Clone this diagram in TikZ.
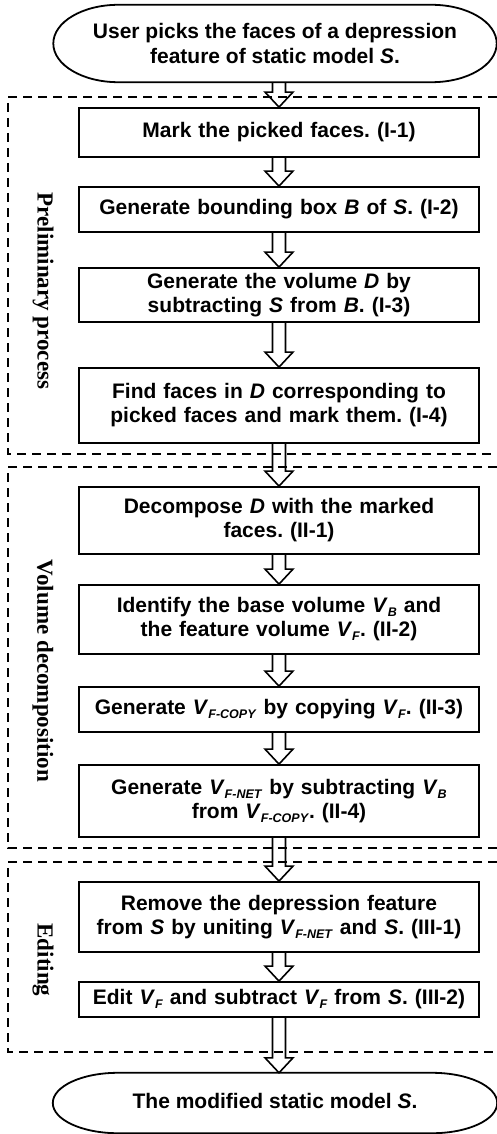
\documentclass[tikz,border=0pt]{standalone}
\usepackage{fontspec}
\setmainfont{Liberation Serif}
\newfontfamily\boxfont{Liberation Sans}
\usetikzlibrary{calc}
\frenchspacing

% variables in the step texts
\newcommand\var[1]{\textit{#1}}
\newcommand\vsub[2]{\textit{#1}\raisebox{-0.35ex}{\fontsize{12.5}{12.5}\selectfont\textit{#2}}}

\tikzset{
  stepbox/.style={draw, line width=1.8pt, minimum width=400pt, text width=394pt,
    align=center, inner sep=0pt,
    font=\boxfont\bfseries\fontsize{21}{24}\selectfont},
  terminal/.style={inner sep=0pt, align=center,
    font=\boxfont\bfseries\fontsize{21}{24.5}\selectfont},
  phase/.style={rotate=-90, inner sep=0pt, font=\bfseries\fontsize{23}{23}\selectfont},
  region/.style={line width=1.5pt, dash pattern=on 9pt off 6pt},
  arrowline/.style={line width=1.6pt, line join=miter},
  terminalline/.style={line width=1.8pt},
}

% hollow block arrow from the bottom of #1 to the top of #2, on the flow axis
\newcommand\flowarrow[2]{%
  \draw[arrowline] let \p1=(#1.south), \p2=(#2.north), \p3=(axis) in
    (\x3-6.5pt,\y1) -- (\x3-6.5pt,\y2+15pt) -- (\x3-14pt,\y2+15pt) -- (\x3,\y2)
    -- (\x3+14pt,\y2+15pt) -- (\x3+6.5pt,\y2+15pt) -- (\x3+6.5pt,\y1);
}

% stadium outline with elliptic ends around a terminal node
\newcommand\terminalshape[1]{%
  \draw[terminalline] let \p1=(#1.north west), \p2=(#1.south east), \n1={0.5*(\y1-\y2)} in
    (\x1+65pt,\y1) -- (\x2-65pt,\y1)
    arc[start angle=90, end angle=-90, x radius=65pt, y radius=\n1]
    -- (\x1+65pt,\y2)
    arc[start angle=270, end angle=90, x radius=65pt, y radius=\n1] -- cycle;
}

\begin{document}
\begin{tikzpicture}[x=1pt, y=-1pt]
\useasboundingbox (0,0) rectangle (496,1134);
\coordinate (axis) at (279,0);

% dashed phase regions
\draw[region] (497,97) -- (8,97) -- (8,454) -- (497,454);
\draw[region] (497,467) -- (8,467) -- (8,848) -- (497,848);
\draw[region] (497,862) -- (8,862) -- (8,1052) -- (497,1052);

% phase labels
\node[phase] (ph1) at (43,291) {Preliminary process};
\node[phase] (ph2) at (43,671) {Volume decomposition};
\node[phase] (ph3) at (43,960) {Editing};

% start and end
\node[terminal, minimum height=77pt, minimum width=443pt] (start) at (275,43.5)
  {User picks the faces of a depression\\feature of static model \var{S}.};
\terminalshape{start}
\node[terminal, minimum height=60pt, minimum width=444pt] (finish) at (275,1103)
  {\raisebox{5pt}{The modified static model \var{S}.}};
\terminalshape{finish}

% preliminary process
\node[stepbox, minimum height=49pt] (s11) at (279,132.5) {Mark the picked faces. (I-1)};
\node[stepbox, minimum height=45pt] (s12) at (279,209.5) {Generate bounding box \var{B} of \var{S}. (I-2)};
\node[stepbox, minimum height=54pt] (s13) at (279,295)
  {Generate the volume \var{D} by\\subtracting \var{S} from \var{B}. (I-3)};
\node[stepbox, minimum height=75pt] (s14) at (279,405.5)
  {Find faces in \var{D} corresponding to\\picked faces and mark them. (I-4)};

% volume decomposition
\node[stepbox, minimum height=67pt] (s21) at (279,520.5)
  {Decompose \var{D} with the marked\\faces. (II-1)};
\node[stepbox, minimum height=69pt] (s22) at (279,619.5)
  {Identify the base volume \vsub{V}{B} and\\the feature volume \vsub{V}{F}. (II-2)};
\node[stepbox, minimum height=45pt] (s23) at (279,709.5)
  {Generate \vsub{V}{F-COPY} by copying \vsub{V}{F}. (II-3)};
\node[stepbox, minimum height=72pt] (s24) at (279,801)
  {Generate \vsub{V}{F-NET} by subtracting \vsub{V}{B}\\from \vsub{V}{F-COPY}. (II-4)};

% editing
\node[stepbox, minimum height=70pt] (s31) at (279,917)
  {Remove the depression feature\\from \var{S} by uniting \vsub{V}{F-NET} and \var{S}. (III-1)};
\node[stepbox, minimum height=35pt] (s32) at (279,999.5)
  {Edit \vsub{V}{F} and subtract \vsub{V}{F} from \var{S}. (III-2)};

% flow
\flowarrow{start}{s11}
\flowarrow{s11}{s12}
\flowarrow{s12}{s13}
\flowarrow{s13}{s14}
\flowarrow{s14}{s21}
\flowarrow{s21}{s22}
\flowarrow{s22}{s23}
\flowarrow{s23}{s24}
\flowarrow{s24}{s31}
\flowarrow{s31}{s32}
\flowarrow{s32}{finish}
\end{tikzpicture}
\end{document}
